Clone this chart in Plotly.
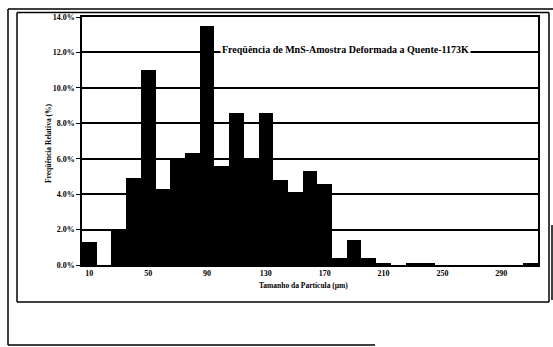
import plotly.graph_objects as go

# Particle size classes (µm) and relative frequency (%)
tamanho = [10, 20, 30, 40, 50, 60, 70, 80, 90, 100, 110, 120, 130, 140, 150, 160,
           170, 180, 190, 200, 210, 220, 230, 240, 250, 260, 270, 280, 290, 300, 310]
frequencia = [1.3, 0.0, 1.9, 4.9, 11.0, 4.3, 5.9, 6.3, 13.5, 5.6, 8.6, 6.0, 8.6, 4.8, 4.1, 5.3,
              4.6, 0.4, 1.4, 0.4, 0.1, 0.0, 0.1, 0.1, 0.0, 0.0, 0.0, 0.0, 0.0, 0.0, 0.1]
x_ticks = [10, 50, 90, 130, 170, 210, 250, 290]
y_ticks = [0, 2, 4, 6, 8, 10, 12, 14]

W, H = 553, 347
L, R, T, B = 82, 15, 17, 82
PW, PH = W - L - R, H - T - B


def px(x):
    return (x - L) / PW


def py(y):
    return (H - B - y) / PH


fig = go.Figure(go.Bar(
    x=tamanho,
    y=[v / 100 for v in frequencia],
    width=10,
    marker=dict(color="black", line=dict(width=0)),
))

serif = "Liberation Serif"

fig.update_layout(
    width=W, height=H, autosize=False,
    margin=dict(l=L, r=R, t=T, b=B),
    paper_bgcolor="white", plot_bgcolor="white",
    showlegend=False, bargap=0,
    font=dict(family=serif, color="black"),
    xaxis=dict(
        range=[5, 315], tickvals=x_ticks, ticktext=[str(v) for v in x_ticks],
        showgrid=False, zeroline=False, showline=True, mirror=True,
        linecolor="black", linewidth=1.5, ticks="",
        tickfont=dict(family=serif, size=8, color="black", weight="bold"),
    ),
    yaxis=dict(
        range=[0, 0.14], tickvals=[v / 100 for v in y_ticks], tickformat=".1%",
        showgrid=True, gridcolor="black", gridwidth=1.5, zeroline=False,
        showline=True, mirror=True, linecolor="black", linewidth=1.5,
        ticks="outside", ticklen=4, tickwidth=1, tickcolor="black",
        tickfont=dict(family=serif, size=8, color="black", weight="bold"),
    ),
)

fig.add_annotation(
    text="Freqüência de MnS-Amostra Deformada a Quente-1173K",
    xref="paper", yref="paper", x=px(345), y=py(42),
    showarrow=False, font=dict(family=serif, size=10, color="black", weight="bold"),
    bgcolor="white",
)
fig.add_annotation(
    text="Freqüência Relativa (%)",
    xref="paper", yref="paper", x=px(41.5), y=py(143), textangle=-90,
    showarrow=False, font=dict(family=serif, size=7.5, color="black", weight="bold"),
)
fig.add_annotation(
    text="Tamanho da Partícula (µm)",
    xref="paper", yref="paper", x=px(303), y=py(291.5),
    showarrow=False, font=dict(family=serif, size=7.5, color="black", weight="bold"),
)

# Chart area border
chart_area = [
    (17, 12.5, 549, 12.5),
    (17, 12.5, 17, 302),
    (17, 302, 549, 302),
    (549, 12.5, 549, 302),
]
# Outer page frame
frame = [
    (8, 9, 8, 345),
    (8, 9, 553, 9),
    (8, 345, 375, 345),
    (552, 225, 552, 300),
]
for x0, y0, x1, y1 in chart_area + frame:
    fig.add_shape(type="line", xref="paper", yref="paper",
                  x0=px(x0), y0=py(y0), x1=px(x1), y1=py(y1),
                  line=dict(color="black", width=1.5))

fig.write_html("out.html")
